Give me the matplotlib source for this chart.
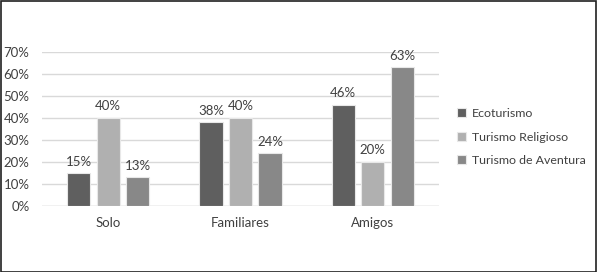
import matplotlib
matplotlib.use("Agg")
import matplotlib.pyplot as plt
import numpy as np
from matplotlib.patches import Rectangle

categories = ["Solo", "Familiares", "Amigos"]
series_names = ["Ecoturismo", "Turismo Religioso", "Turismo de Aventura"]
ecoturismo = [15, 38, 46]
religioso = [40, 40, 20]
aventura = [13, 24, 63]
yticks = [0, 10, 20, 30, 40, 50, 60, 70]

COLORS = ["#5f5f5f", "#b0b0b0", "#888888"]
TEXT = "#404040"

plt.rcParams["font.family"] = ["Lato", "DejaVu Sans"]

fig = plt.figure(figsize=(5.97, 2.72), dpi=100, facecolor="white")
ax = fig.add_axes([42 / 597, 1 - 206 / 272, 397 / 597, 154 / 272])

x = np.arange(len(categories))
width = 0.174
step = 0.223
for i, (name, vals) in enumerate(zip(series_names, [ecoturismo, religioso, aventura])):
    pos = x + (i - 1) * step
    bars = ax.bar(pos, vals, width, color=COLORS[i], edgecolor="#e8e8e8",
                  linewidth=0.8, label=name, zorder=3)
    for b, v in zip(bars, vals):
        ax.text(b.get_x() + b.get_width() / 2, v + 2.5, f"{v}%", ha="center",
                va="bottom", fontsize=9.5, color=TEXT)

ax.set_xlim(-0.5, 2.5)
ax.set_ylim(0, 70)
ax.set_yticks(yticks)
ax.set_yticklabels([f"{t}%" for t in yticks])
ax.set_xticks(x)
ax.set_xticklabels(categories)
ax.tick_params(axis="both", length=0, labelsize=9.5, labelcolor=TEXT)
ax.tick_params(axis="y", pad=9)
ax.tick_params(axis="x", pad=8)
ax.grid(axis="y", color="#d9d9d9", linewidth=1, zorder=0)
for s in ax.spines.values():
    s.set_visible(False)
ax.axhline(0, color="#d9d9d9", linewidth=1, zorder=1)

ax.legend(loc="center left", bbox_to_anchor=(1.045, 0.448), frameon=False,
          fontsize=8.9, labelcolor=TEXT, handlelength=0.7, handleheight=0.7,
          handletextpad=0.5, labelspacing=1.0, borderpad=0, borderaxespad=0)

fig.patches.append(Rectangle((0.5 / 597, 0.5 / 272), 595.5 / 597, 270.5 / 272,
                             transform=fig.transFigure, fill=False,
                             edgecolor="#202020", linewidth=1.2))

fig.savefig("out.png", dpi=100, facecolor="white")
